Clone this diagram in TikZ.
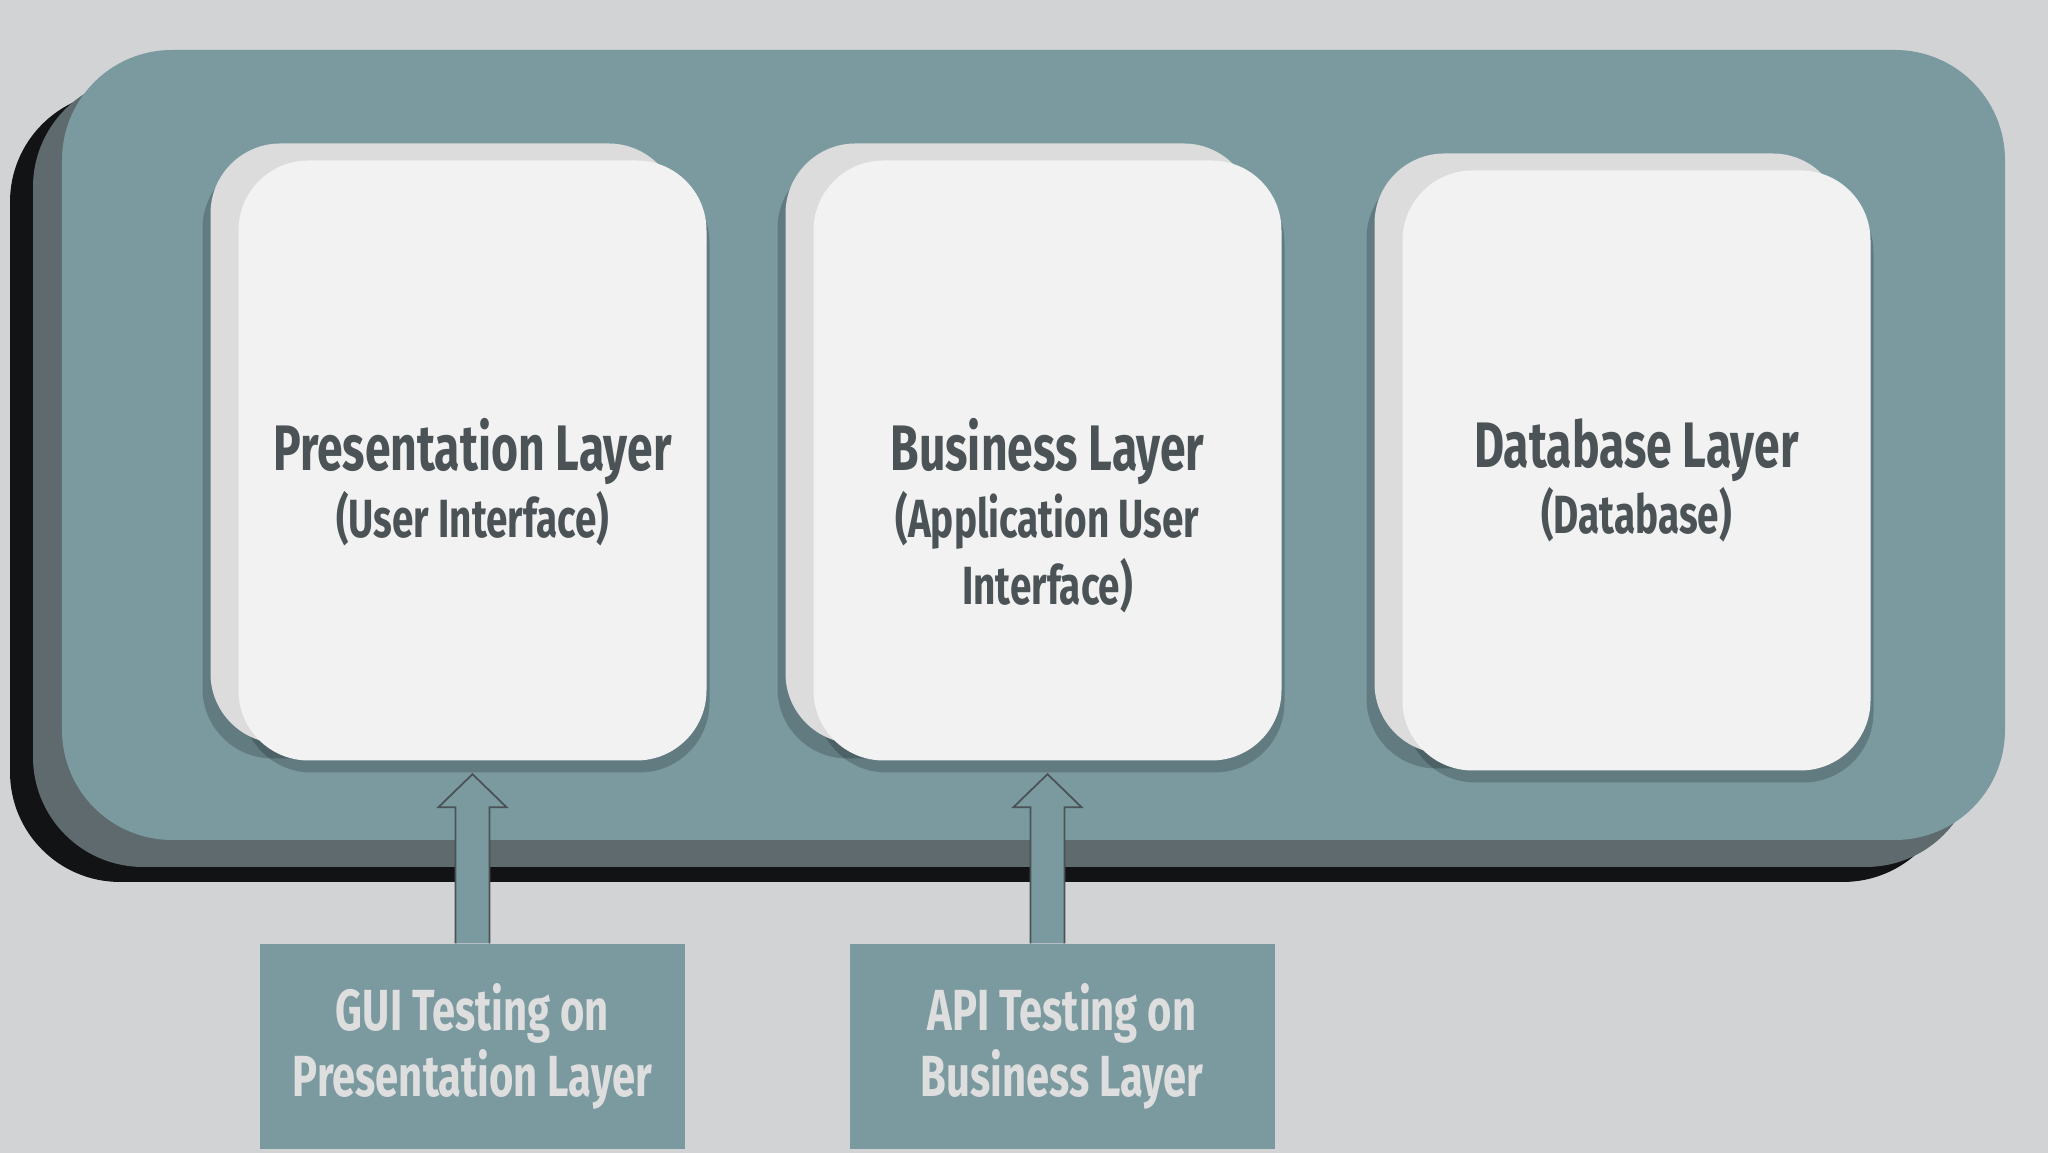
\documentclass[tikz,border=0pt]{standalone}
\usepackage{fontspec}
\setmainfont{Fira Sans}[FakeStretch=0.72]
\usetikzlibrary{shadows,calc}

\definecolor{bgc}{HTML}{D2D3D5}
\definecolor{tealc}{HTML}{7A9AA0}
\definecolor{shadec}{HTML}{5E6A6D}
\definecolor{darkc}{HTML}{111315}
\definecolor{cardc}{HTML}{F2F2F2}
\definecolor{backc}{HTML}{DCDCDC}
\definecolor{inkc}{HTML}{4B5356}
\definecolor{lightc}{HTML}{DEDEDE}
\definecolor{edgec}{HTML}{4A5256}

\newcommand\subsize{\bfseries\fontsize{15.3}{19}\selectfont}

% block arrow from a box up to just below a card
\newcommand\blockarrow[2]{%
  \draw [barrow] let \p1=(#1), \p2=(#2) in
    (\x2-0.17cm,\y1) -- (\x2-0.17cm,\y2-0.46cm) -- (\x2-0.34cm,\y2-0.46cm)
    -- (\x2,\y2-0.13cm) -- (\x2+0.34cm,\y2-0.46cm) -- (\x2+0.17cm,\y2-0.46cm)
    -- (\x2+0.17cm,\y1);}

\begin{document}
\begin{tikzpicture}[
  card/.style={rectangle, rounded corners=0.7cm, fill=cardc,
    minimum width=4.68cm, minimum height=6.0cm,
    general shadow={shadow xshift=-0.36cm, shadow yshift=0.02cm, fill=black, opacity=0.2},
    general shadow={shadow xshift=0.03cm, shadow yshift=-0.12cm, fill=black, opacity=0.2},
    general shadow={shadow xshift=-0.28cm, shadow yshift=0.17cm, fill=backc}},
  ltext/.style={text=inkc, anchor=north, align=center,
    font=\bfseries\fontsize{18.3}{19}\selectfont},
  tbox/.style={rectangle, fill=tealc, text=lightc, align=center,
    minimum width=4.25cm, minimum height=2.05cm,
    font=\bfseries\fontsize{16.5}{19}\selectfont},
  barrow/.style={fill=tealc, draw=edgec, line width=0.5pt},
]

\useasboundingbox (0,0) rectangle (20.48,11.53);
\fill [bgc] (0,0) rectangle (20.48,11.53);

\fill [darkc, rounded corners=1.1cm] (0.10,2.71) rectangle (19.53,10.61);
\fill [shadec, rounded corners=1.1cm] (0.33,2.86) rectangle (19.76,10.76);
\fill [tealc, rounded corners=1.1cm] (0.62,3.13) rectangle (20.05,11.03);

\node [card] (pres) at (4.725,6.925) {};
\node [card] (busi) at (10.475,6.925) {};
\node [card] (data) at (16.365,6.825) {};

\node [ltext] (prest) at (4.725,7.47) {Presentation Layer\\
  \subsize (User Interface)};
\node [ltext] (busit) at (10.475,7.47) {Business Layer\\
  \subsize (Application User\\ \subsize Interface)};
\node [ltext] (datat) at (16.365,7.47) {Database Layer\\
  \subsize (Database)};

\node [tbox] (gui) at (4.725,1.065) {};
\node [tbox] (api) at (10.62,1.065) {};

\blockarrow{gui.north}{pres.south}
\blockarrow{api.north}{busi.south}

\node [tbox] at (gui) {GUI Testing on\\Presentation Layer};
\node [tbox] at (api) {API Testing on\\Business Layer};

\end{tikzpicture}
\end{document}
